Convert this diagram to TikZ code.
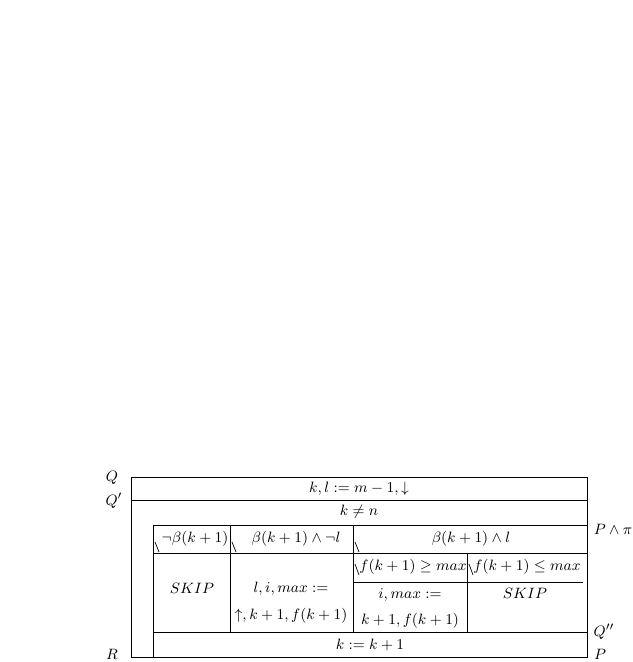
\documentclass[tikz,border=0pt]{standalone}
\usepackage{amssymb}
\usepackage{tikz}
\tikzset{>=latex}

\begin{document}
\begin{tikzpicture}[x=0.6pt,y=-0.6pt,font=\fontsize{9.5}{11}\selectfont]
  \useasboundingbox (0,0) rectangle (633,662);
  % outer block
  \draw (131,477) rectangle node (init) {$k,l:=m-1,\downarrow$} (587,500);
  \draw (131,500) rectangle (587,657);
  \node (loop) at (359,512) {$k\neq n$};
  % case block
  \draw (153,525) rectangle (587,632);
  \draw (153,553) -- (587,553);
  \draw (230,525) -- (230,632);
  \draw (353,525) -- (353,632);
  \draw (467,553) -- (467,632);
  \draw (353,582) -- (583,582);
  \draw (155,542) -- (159,552);
  \draw (232,542) -- (236,552);
  \draw (355,542) -- (359,552);
  \draw (355,564) -- (359,575);
  \draw (469,564) -- (473,575);
  \node (c1) at (195,539) {$\neg\beta(k+1)$};
  \node (c2) at (296,539) {$\beta(k+1)\wedge\neg l$};
  \node (c3) at (471,539) {$\beta(k+1)\wedge l$};
  \node (c31) at (413,567) {$f(k+1)\geq max$};
  \node (c32) at (527,567) {$f(k+1)\leq max$};
  \node (s1) at (192,588) {$SKIP$};
  \node (s2a) at (291,589) {$l,i,max:=$};
  \node (s2b) at (291,616) {$\uparrow,k+1,f(k+1)$};
  \node (s31a) at (410,595) {$i,max:=$};
  \node (s31b) at (410,621) {$k+1,f(k+1)$};
  \node (s32) at (525,593) {$SKIP$};
  % step
  \draw (153,632) rectangle node (inc) {$k:=k+1$} (587,657);
  % assertions
  \node (Q) at (112,478) {$Q$};
  \node (Q1) at (114,501) {$Q'$};
  \node (R) at (112,654) {$R$};
  \node (Ppi) at (613,529) {$P\wedge\pi$};
  \node (Q2) at (604,632) {$Q''$};
  \node (P) at (600,654) {$P$};
\end{tikzpicture}
\end{document}
